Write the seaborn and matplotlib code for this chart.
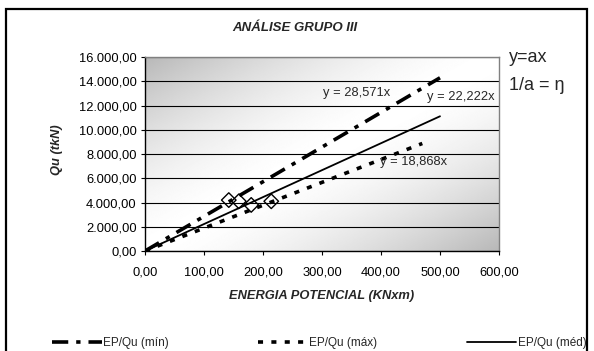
import numpy as np
import pandas as pd
import matplotlib
matplotlib.use("Agg")
import matplotlib.pyplot as plt
import matplotlib.ticker as mticker
from matplotlib.patches import Rectangle
from matplotlib.lines import Line2D
import seaborn as sns

# Trend lines y = a*x for each ratio series
series_names = ["EP/Qu (mín)", "EP/Qu (máx)", "EP/Qu (méd)"]
slopes = [28.571, 18.868, 22.222]
x_end = [500.0, 470.0, 500.0]
slope_labels = ["y = 28,571x", "y = 18,868x", "y = 22,222x"]

# Measured points (potential energy vs load)
ep_points = [142.0, 159.0, 180.0, 214.0]
qu_points = [4200.0, 4100.0, 3800.0, 4100.0]

x_ticks = [0, 100, 200, 300, 400, 500, 600]
y_ticks = [0, 2000, 4000, 6000, 8000, 10000, 12000, 14000, 16000]

sns.set_theme(style="white", rc={
    "xtick.bottom": True, "ytick.left": True,
    "xtick.major.size": 3, "ytick.major.size": 3,
    "xtick.color": "black", "ytick.color": "black",
    "axes.edgecolor": "black",
})
plt.rcParams["font.family"] = ["Liberation Sans", "DejaVu Sans"]

W, H = 594, 351
fig = plt.figure(figsize=(W / 100, H / 100), dpi=100)
ax = fig.add_axes([145 / W, 1 - 251 / H, 354 / W, 194 / H])

# Diagonal gray gradient behind the plot area
gx, gy = np.meshgrid(np.linspace(0, 1, 300), np.linspace(1, 0, 200))
d = gx - gy
shade = 1 - 0.28 * np.abs(d) ** 1.6
ax.imshow(shade, extent=(0, 600, 0, 16000), aspect="auto", cmap="gray",
          vmin=0, vmax=1, zorder=-2, interpolation="bilinear")

styles = {
    "EP/Qu (mín)": dict(lw=2.6, dashes=(4.5, 2.2, 1.2, 2.2)),
    "EP/Qu (máx)": dict(lw=2.6, dashes=(1.4, 2.3)),
    "EP/Qu (méd)": dict(lw=1.3, dashes=()),
}

rows = []
for name, a, xe in zip(series_names, slopes, x_end):
    for xv in (0.0, xe):
        rows.append({"serie": name, "EP": xv, "Qu": a * xv})
df = pd.DataFrame(rows)

handles = []
for name in series_names:
    st = styles[name]
    sub = df[df["serie"] == name]
    sns.lineplot(data=sub, x="EP", y="Qu", ax=ax, color="black",
                 lw=st["lw"], dashes=False, legend=False, zorder=3)
    ln = ax.lines[-1]
    if st["dashes"]:
        ln.set_dashes(st["dashes"])
    handles.append(Line2D([0], [0], color="black", lw=st["lw"],
                          dashes=st["dashes"] if st["dashes"] else (None, None),
                          label=name))

pts = pd.DataFrame({"EP": ep_points, "Qu": qu_points})
sns.scatterplot(data=pts, x="EP", y="Qu", ax=ax, marker="D", s=55,
                facecolor="none", edgecolor="black", linewidth=1.0, zorder=4)

# Equation labels
ax.text(358, 13030, slope_labels[0], ha="center", va="center", fontsize=9.3)
ax.text(536, 12700, slope_labels[2], ha="center", va="center", fontsize=9.3)
ax.text(456, 7340, slope_labels[1], ha="center", va="center", fontsize=9.3)

ax.set_xlim(0, 600)
ax.set_ylim(0, 16000)
ax.set_xticks(x_ticks)
ax.set_yticks(y_ticks)


def br_fmt(v, pos):
    s = f"{v:,.2f}"
    return s.replace(",", "X").replace(".", ",").replace("X", ".")


ax.xaxis.set_major_formatter(mticker.FuncFormatter(br_fmt))
ax.yaxis.set_major_formatter(mticker.FuncFormatter(br_fmt))
ax.tick_params(labelsize=9.3, width=0.8)
ax.tick_params(axis="x", pad=8.5)
ax.tick_params(axis="y", pad=3)
ax.yaxis.grid(True, color="black", lw=0.8)
ax.xaxis.grid(False)
ax.set_axisbelow(True)
for side in ("left", "bottom"):
    ax.spines[side].set_color("black")
    ax.spines[side].set_linewidth(1.0)
for side in ("top", "right"):
    ax.spines[side].set_color("#808080")
    ax.spines[side].set_linewidth(1.0)

ax.set_xlabel("ENERGIA POTENCIAL (KNxm)", fontsize=9.3, fontweight="bold",
              fontstyle="italic")
ax.set_ylabel("Qu (tkN)", fontsize=9.3, fontweight="bold", fontstyle="italic")
ax.xaxis.set_label_coords(0.5, -0.232)
ax.xaxis.label.set_va("center")
ax.yaxis.set_label_coords(-0.232, 0.52)

fig.text(295 / W, 1 - 28 / H, "ANÁLISE GRUPO III", ha="center", va="center",
         fontsize=9.5, fontweight="bold", fontstyle="italic")
fig.text(509 / W, 1 - 58 / H, "y=ax", ha="left", va="center", fontsize=13)
fig.text(509 / W, 1 - 85 / H, "1/a = ŋ", ha="left", va="center", fontsize=13)

fig.legend(handles=handles, loc="center left", bbox_to_anchor=(52 / W, 1 - 343 / H),
           ncol=3, frameon=False, fontsize=8.5, handlelength=4.2,
           handletextpad=0.1, columnspacing=7.6, borderaxespad=0, borderpad=0)

# Outer chart frame
fig.add_artist(Rectangle((6 / W, -0.05), (587 - 6) / W, 1.05 - 9 / H,
                         transform=fig.transFigure, fill=False,
                         edgecolor="black", lw=1.6, zorder=10))

fig.savefig("out.png", dpi=100)
